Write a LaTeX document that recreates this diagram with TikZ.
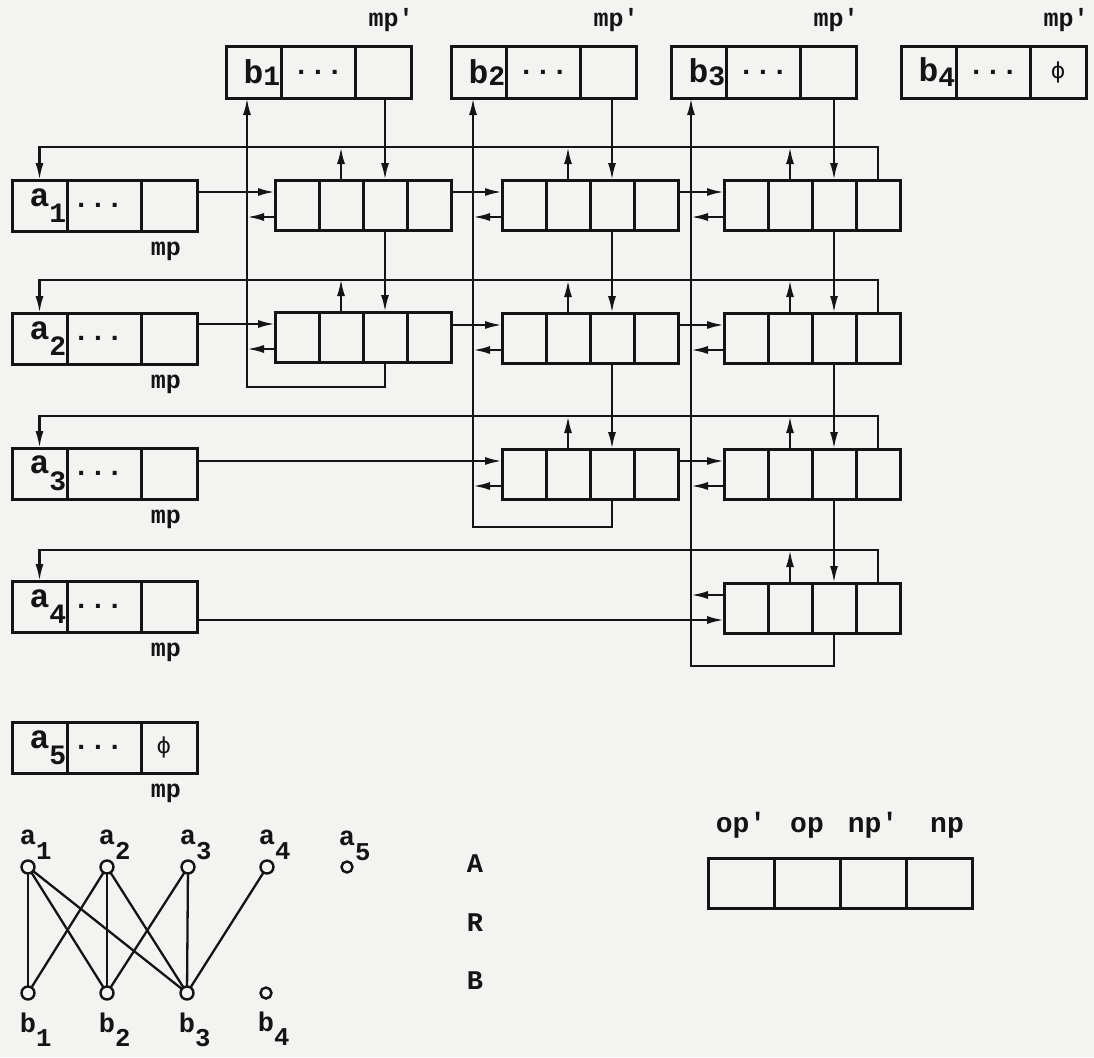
\documentclass[tikz,border=0pt]{standalone}
\usepackage{fontspec}
\setmainfont{Liberation Mono}
\newfontfamily\phifont{DejaVu Sans}
\usepackage{graphicx}
\usepackage{tikz}
\usetikzlibrary{arrows.meta,positioning}
\definecolor{paper}{RGB}{243,243,241}
\definecolor{ink}{RGB}{20,20,20}
\newcommand{\ixs}{0.85}
\newcommand{\ix}[3][0.5em]{#2\rlap{\raisebox{-#1}{\scalebox{\ixs}{#3}}}}
\newcommand{\pr}{\textquotesingle}
\newcommand{\nil}{{\phifont ϕ}}

\begin{document}
\begin{tikzpicture}[
  x=1pt, y=-1pt,
  >={Latex[length=17pt,width=8pt]},
  every node/.style={inner sep=0pt, outer sep=0pt, text=ink},
  cell/.style={draw=ink, line width=3pt, minimum height=51pt, anchor=north west},
  hcell/.style={cell, minimum width=55pt, font=\fontsize{33}{36}\selectfont\bfseries},
  dcell/.style={cell, minimum width=74pt, font=\fontsize{28}{30}\selectfont\bfseries},
  pcell/.style={cell, minimum width=56pt, font=\fontsize{22}{26}\selectfont},
  qcell/.style={cell, minimum width=44pt, minimum height=50pt},
  ptr/.style={font=\fontsize{25}{28}\selectfont\bfseries},
  arr/.style={->, draw=ink, line width=2.3pt},
  vtx/.style={circle, draw=ink, line width=2.4pt, minimum size=13pt},
  lone/.style={vtx, minimum size=11pt},
  rel/.style={draw=ink, line width=2.3pt},
  vlbl/.style={font=\fontsize{27}{30}\selectfont\bfseries\renewcommand{\ixs}{0.95}},
  fld/.style={font=\fontsize{28}{30}\selectfont\bfseries},
  setname/.style={font=\fontsize{27}{30}\selectfont\bfseries}
]
\fill[paper] (0,0) rectangle (1094,1057);
\useasboundingbox (0,0) rectangle (1094,1057);

% column headers b_j
\foreach \j/\x in {1/226, 2/451, 3/671} {
  \node[hcell] (b\j-1) at (\x,47) {\ix[0.08em]{b}{\j}};
  \node[dcell, right=0pt of b\j-1] (b\j-2) {...};
  \node[pcell, right=0pt of b\j-2] (b\j-3) {};
}
\node[hcell] (b4-1) at (901,47) {\ix[0.15em]{b}{4}};
\node[dcell, right=0pt of b4-1] (b4-2) {...};
\node[pcell, right=0pt of b4-2] (b4-3) {\nil};
\foreach \j in {1,...,4}
  \node[ptr, above=15pt of b\j-3, xshift=8pt] (bm\j) {mp\pr};

% row headers a_i
\foreach \i/\y in {1/180, 2/313, 3/448, 4/581} {
  \node[hcell] (a\i-1) at (12,\y) {\ix{a}{\i}};
  \node[dcell, right=0pt of a\i-1] (a\i-2) {...\hspace*{12pt}};
  \node[pcell, right=0pt of a\i-2] (a\i-3) {};
}
\node[hcell] (a5-1) at (12,722) {\ix{a}{5}};
\node[dcell, right=0pt of a5-1] (a5-2) {...\hspace*{12pt}};
\node[pcell, right=0pt of a5-2] (a5-3) {\nil\hspace*{10pt}};
\foreach \i in {1,...,5}
  \node[ptr, below=11pt of a\i-3, xshift=-3pt] (am\i) {mp};

% relation nodes: op', op, np', np
\foreach \n/\x/\y in {11/275/180, 12/502/180, 13/724/180, 21/275/312, 22/502/313, 23/724/313, 32/502/449, 33/724/449, 43/724/583} {
  \node[qcell] (n\n-1) at (\x,\y) {};
  \node[qcell, right=0pt of n\n-1] (n\n-2) {};
  \node[qcell, right=0pt of n\n-2] (n\n-3) {};
  \node[qcell, right=0pt of n\n-3] (n\n-4) {};
  \coordinate (n\n-i) at ([yshift=-12pt]n\n-1.north west);
  \coordinate (n\n-o) at ([yshift=13pt]n\n-1.south west);
}

% bus corners back to the b_j
\coordinate (c1) at (247,387);
\coordinate (c2) at (473,527);
\coordinate (c3) at (691,666);

% np along the rows
\draw[arr] (a1-3.east |- n11-i) -- (n11-i);
\draw[arr] (n11-4.east |- n12-i) -- (n12-i);
\draw[arr] (n12-4.east |- n13-i) -- (n13-i);
\draw[arr] (a2-3.east |- n21-i) -- (n21-i);
\draw[arr] (n21-4.east |- n22-i) -- (n22-i);
\draw[arr] (n22-4.east |- n23-i) -- (n23-i);
\draw[arr] (a3-3.east |- n32-i) -- (n32-i);
\draw[arr] (n32-4.east |- n33-i) -- (n33-i);
\draw[arr] (a4-3.east |- n43-o) -- (n43-o);

% last np and every op up to the row line
\draw[arr] (n13-4.north) -- ++(0,-33) -| (a1-1.north);
\draw[arr] (n23-4.north) -- ++(0,-33) -| (a2-1.north);
\draw[arr] (n33-4.north) -- ++(0,-33) -| (a3-1.north);
\draw[arr] (n43-4.north) -- ++(0,-33) -| (a4-1.north);
\foreach \n in {11,12,13,21,22,23,32,33,43}
  \draw[arr] (n\n-2.north) -- ++(0,-33);

% np' down the columns
\draw[arr] (b1-3.south -| n11-3.north) -- (n11-3.north);
\draw[arr] (n11-3.south) -- (n21-3.north);
\draw[arr] (b2-3.south -| n12-3.north) -- (n12-3.north);
\draw[arr] (n12-3.south) -- (n22-3.north);
\draw[arr] (n22-3.south) -- (n32-3.north);
\draw[arr] (b3-3.south -| n13-3.north) -- (n13-3.north);
\draw[arr] (n13-3.south) -- (n23-3.north);
\draw[arr] (n23-3.south) -- (n33-3.north);
\draw[arr] (n33-3.south) -- (n43-3.north);

% last np' and every op' to the column bus
\draw[arr] (n21-3.south) |- (c1) -- (c1 |- b1-1.south);
\draw[arr] (n32-3.south) |- (c2) -- (c2 |- b2-1.south);
\draw[arr] (n43-3.south) |- (c3) -- (c3 |- b3-1.south);
\foreach \n/\c in {11/c1, 21/c1, 12/c2, 22/c2, 32/c2, 13/c3, 23/c3, 33/c3}
  \draw[arr] (n\n-o) -- (n\n-o -| \c);
\draw[arr] (n43-i) -- (n43-i -| c3);

% the relation R between A and B
\foreach \k/\x in {1/28, 2/107, 3/188, 4/267}
  \node[vtx] (va\k) at (\x,867) {};
\node[lone] (va5) at (347,867) {};
\foreach \k/\x in {1/28, 2/107, 3/187}
  \node[vtx] (vb\k) at (\x,993) {};
\node[lone] (vb4) at (266,993) {};
\foreach \k in {1,...,5}
  \node[vlbl, above=1pt of va\k] (la\k) {\ix[0.55em]{a}{\k}};
\foreach \k in {1,...,4}
  \node[vlbl, below=13pt of vb\k] (lb\k) {\ix[0.55em]{b}{\k}};
\foreach \p/\q in {1/1, 1/2, 1/3, 2/1, 2/2, 2/3, 3/2, 3/3, 4/3}
  \draw[rel] (va\p) -- (vb\q);

\node[setname] (setA) at (475,864) {A};
\node[setname] (setR) at (475,923) {R};
\node[setname] (setB) at (475,981) {B};

% field layout of a relation node
\node[qcell, minimum width=66pt] (g1) at (708,858) {};
\node[qcell, minimum width=66pt, right=0pt of g1] (g2) {};
\node[qcell, minimum width=66pt, right=0pt of g2] (g3) {};
\node[qcell, minimum width=66pt, right=0pt of g3] (g4) {};
\node[fld, above=20pt of g1] (f1) {op\pr};
\node[fld, above=20pt of g2] (f2) {op};
\node[fld, above=20pt of g3] (f3) {np\pr};
\node[fld, above=20pt of g4, xshift=8pt] (f4) {np};
\end{tikzpicture}
\end{document}
